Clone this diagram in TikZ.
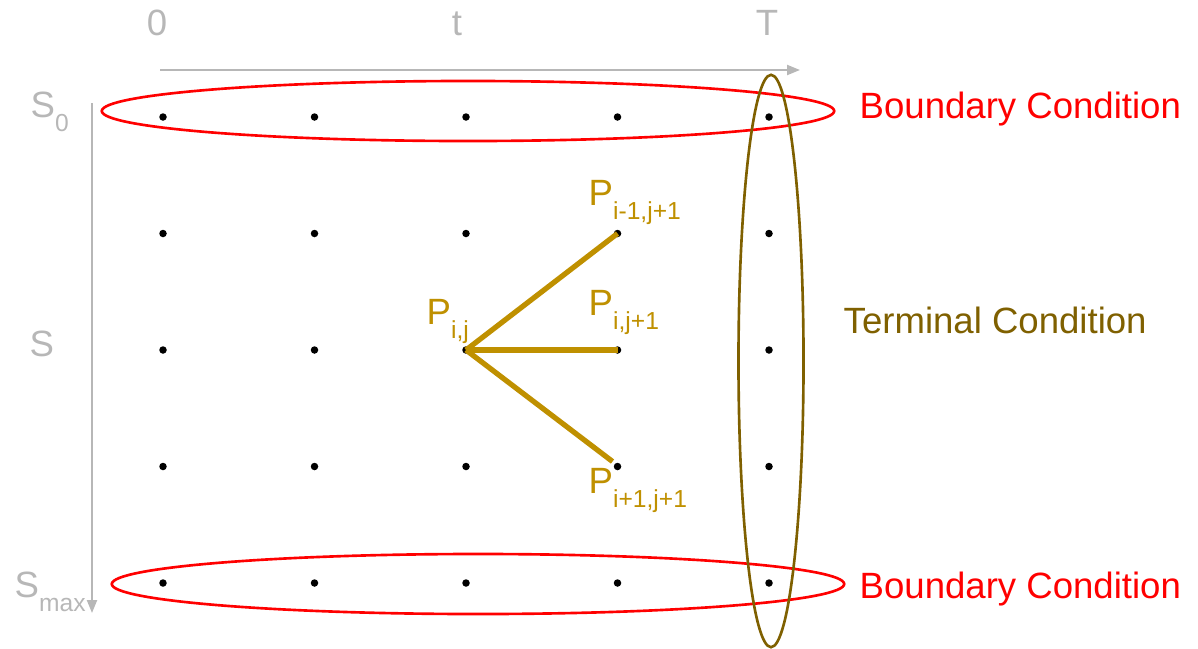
\documentclass[tikz,border=0pt]{standalone}
\usepackage{fontspec}
\setmainfont{Liberation Sans}
\usetikzlibrary{arrows.meta,positioning,shapes.geometric}
\definecolor{axisgray}{HTML}{B7B7B7}
\definecolor{stepgold}{HTML}{BF9000}
\definecolor{termcol}{HTML}{7F6000}
\newcommand{\lowsub}[3]{#1\raisebox{-#3}{\fontsize{7}{8}\selectfont #2}}

\begin{document}
\begin{tikzpicture}[x=0.01cm,y=-0.01cm,
  lbl/.style={inner sep=0pt,anchor=base,font=\fontsize{10.4}{12}\selectfont},
  axlbl/.style={lbl,text=axisgray},
  plbl/.style={lbl,anchor=base west,text=stepgold},
  dot/.style={circle,fill=black,inner sep=0pt,minimum size=0.075cm},
  axis/.style={axisgray,line width=0.6pt,-{Triangle[length=1.3mm,width=1mm]}},
  bnd/.style={ellipse,draw=red,line width=0.75pt,minimum width=7.32cm,minimum height=0.6cm,inner sep=0pt},
  term/.style={ellipse,draw=termcol,line width=0.75pt,minimum width=0.65cm,minimum height=5.72cm,inner sep=0pt},
  stp/.style={stepgold,line width=1.5pt}]
\useasboundingbox (0,0) rectangle (1198,648);
% grid of nodes
\foreach \c in {1,...,5}
  \foreach \r in {1,...,5}
    \node[dot] (g-\c-\r) at ({163+151.5*(\c-1)},{117+116.5*(\r-1)}) {};
% axes
\coordinate (t-start) at (160,70);
\coordinate (t-end) at (800,70);
\coordinate (s-start) at (92,103);
\coordinate (s-end) at (92,613);
\draw[axis] (t-start) -- (t-end);
\draw[axis] (s-start) -- (s-end);
\node[axlbl] (l-0) at (157,35) {0};
\node[axlbl] (l-t) at (457,35) {t};
\node[axlbl] (l-T) at (767,35) {T};
\node[axlbl,anchor=base west] (l-s0) at (30,117) {\lowsub{S}{0}{4pt}};
\node[axlbl,anchor=base west] (l-s) at (29,356) {S};
\node[axlbl,anchor=base west] (l-smax) at (14,597) {\lowsub{S}{max}{4pt}};
% conditions
\node[bnd] (bnd-top) at (468,111) {};
\node[bnd] (bnd-bot) at (478,584) {};
\node[term] (term) at (771,361) {};
\node[lbl,anchor=base west,text=red] (bc-top) at (859,118) {Boundary Condition};
\node[lbl,anchor=base west,text=red] (bc-bot) at (859,598) {Boundary Condition};
\node[lbl,anchor=base west,text=termcol] (tc) at (843,333) {Terminal Condition};
% stencil
\draw[stp] (g-3-3.center) -- (g-4-2.center);
\draw[stp] (g-3-3.center) -- (g-4-3.center);
\draw[stp] (g-3-3.center) -- ([xshift=-0.05cm,yshift=0.05cm]g-4-4.center);
\node[plbl] (p-ij) at (426,324) {\lowsub{P}{i,j}{4pt}};
\node[plbl] (p-up) at (588,205) {\lowsub{P}{i-1,j+1}{4.2pt}};
\node[plbl] (p-mid) at (588,315) {\lowsub{P}{i,j+1}{4.2pt}};
\node[plbl] (p-dn) at (588,493) {\lowsub{P}{i+1,j+1}{4.2pt}};
\end{tikzpicture}
\end{document}
